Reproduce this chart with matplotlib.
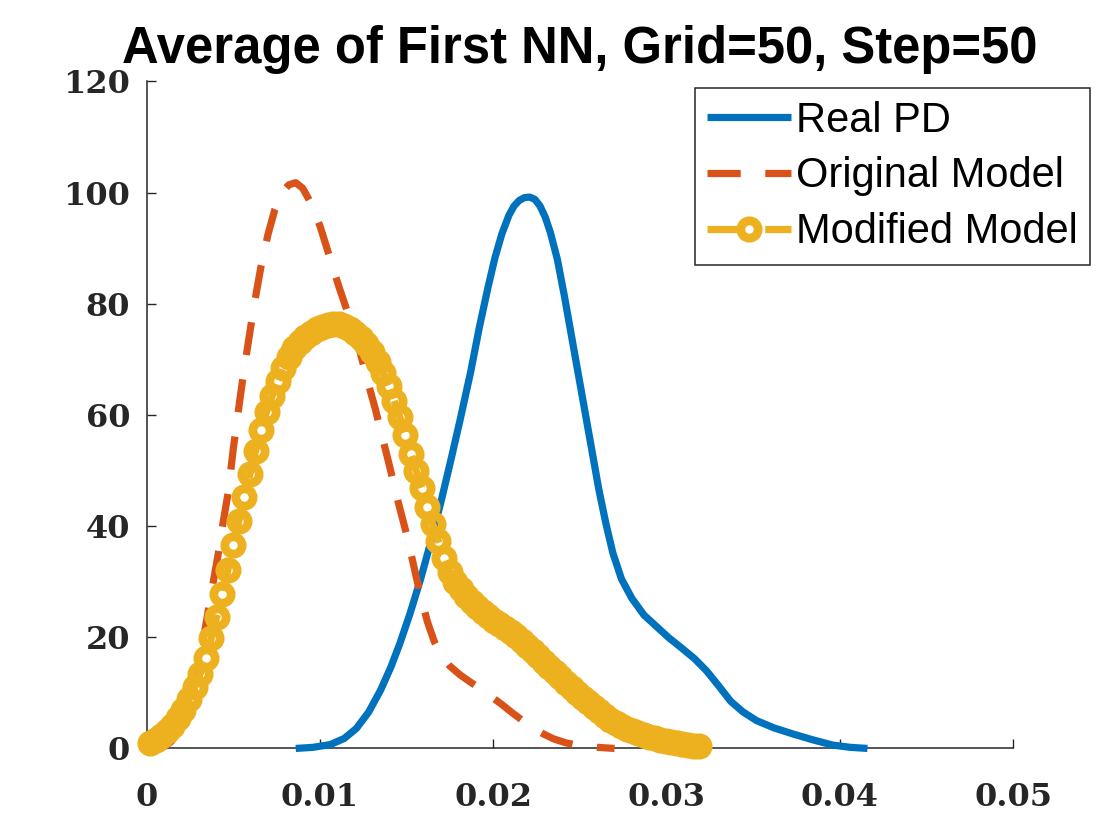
import matplotlib
matplotlib.use("Agg")
import matplotlib.pyplot as plt

# ---------- data ----------
real_x = [0.0086, 0.0096, 0.0106, 0.0114, 0.0121, 0.0128, 0.0135, 0.0141, 0.0146, 0.0152,
          0.0158, 0.0164, 0.0170, 0.0176, 0.0181, 0.0187, 0.0192, 0.0197, 0.0201, 0.0205,
          0.0209, 0.0212, 0.0215, 0.0218, 0.0221, 0.0224, 0.0227, 0.0230, 0.0233, 0.0237,
          0.0241, 0.0245, 0.0249, 0.0253, 0.0257, 0.0261, 0.0265, 0.0269, 0.0274, 0.0280,
          0.0287, 0.0294, 0.0301, 0.0309, 0.0316, 0.0323, 0.0330, 0.0337, 0.0344, 0.0352,
          0.0362, 0.0373, 0.0385, 0.0396, 0.0406, 0.0416]
real_y = [0.0, 0.2, 0.7, 1.8, 3.6, 6.5, 10.5, 14.7, 18.8, 24.3,
          30.4, 37.2, 44.6, 52.5, 59.3, 67.8, 75.8, 83.0, 88.3, 92.6,
          95.9, 97.6, 98.6, 99.1, 99.2, 98.8, 97.6, 95.6, 92.8, 88.0,
          81.5, 74.5, 67.5, 60.5, 53.5, 46.5, 40.5, 35.2, 30.5, 27.0,
          24.0, 22.0, 20.0, 18.0, 16.2, 14.0, 11.3, 8.5, 6.6, 5.0,
          3.7, 2.6, 1.5, 0.6, 0.2, 0.0]

orig_x = [0.0010, 0.0014, 0.0018, 0.0022, 0.0025, 0.0028, 0.0031, 0.0034, 0.0037, 0.0041,
          0.0044, 0.0047, 0.0050, 0.0053, 0.0056, 0.0059, 0.0062, 0.0066, 0.0070, 0.0074,
          0.0078, 0.0082, 0.0086, 0.0090, 0.0095, 0.0100, 0.0105, 0.0111, 0.0117, 0.0123,
          0.0128, 0.0132, 0.0136, 0.0140, 0.0145, 0.0150, 0.0154, 0.0158, 0.0162, 0.0166,
          0.0170, 0.0175, 0.0181, 0.0187, 0.0193, 0.0199, 0.0205, 0.0211, 0.0217, 0.0223,
          0.0229, 0.0235, 0.0242, 0.0250, 0.0260, 0.0270]
orig_y = [0.3, 1.2, 3.0, 5.8, 9.0, 12.8, 17.2, 22.0, 27.5, 34.5,
          40.5, 46.0, 54.0, 61.0, 67.8, 73.8, 79.8, 86.8, 92.5, 97.0,
          100.0, 101.4, 101.8, 100.8, 98.0, 94.0, 89.0, 83.0, 77.5, 71.5,
          65.5, 61.0, 56.0, 51.0, 44.5, 38.5, 33.0, 27.5, 22.8, 19.2,
          16.8, 14.8, 13.2, 11.9, 10.6, 9.3, 7.9, 6.4, 5.0, 3.7,
          2.6, 1.7, 1.0, 0.5, 0.2, 0.0]

mod_x = [0.00020, 0.00052, 0.00084, 0.00116, 0.00148, 0.00180, 0.00212, 0.00244, 0.00276, 0.00308,
         0.00340, 0.00372, 0.00404, 0.00436, 0.00468, 0.00500, 0.00532, 0.00564, 0.00596, 0.00628,
         0.00660, 0.00692, 0.00724, 0.00756, 0.00788, 0.00820, 0.00852, 0.00884, 0.00916, 0.00948,
         0.00980, 0.01012, 0.01044, 0.01076, 0.01108, 0.01140, 0.01172, 0.01204, 0.01236, 0.01268,
         0.01300, 0.01332, 0.01364, 0.01396, 0.01428, 0.01460, 0.01492, 0.01524, 0.01556, 0.01588,
         0.01620, 0.01652, 0.01684, 0.01716, 0.01748, 0.01780, 0.01812, 0.01844, 0.01876, 0.01908,
         0.01940, 0.01972, 0.02004, 0.02036, 0.02068, 0.02100, 0.02132, 0.02164, 0.02196, 0.02228,
         0.02260, 0.02292, 0.02324, 0.02356, 0.02388, 0.02420, 0.02452, 0.02484, 0.02516, 0.02548,
         0.02580, 0.02612, 0.02644, 0.02676, 0.02708, 0.02740, 0.02772, 0.02804, 0.02836, 0.02868,
         0.02900, 0.02932, 0.02964, 0.02996, 0.03028, 0.03060, 0.03092, 0.03124, 0.03156, 0.03188]
mod_y = [1.0, 1.6, 2.3, 3.1, 4.1, 5.4, 7.0, 8.9, 11.0, 13.4,
         16.3, 19.8, 23.7, 27.8, 32.1, 36.6, 41.0, 45.3, 49.4, 53.5,
         57.3, 60.6, 63.4, 66.1, 68.5, 70.5, 72.0, 73.2, 74.1, 74.8,
         75.4, 75.8, 76.1, 76.3, 76.3, 76.0, 75.5, 74.8, 73.9, 72.8,
         71.3, 69.6, 67.6, 65.3, 62.6, 59.7, 56.4, 53.0, 49.9, 46.8,
         43.4, 40.3, 37.3, 34.3, 31.8, 29.9, 28.6, 27.5, 26.4, 25.4,
         24.6, 23.8, 23.0, 22.3, 21.6, 21.0, 20.2, 19.3, 18.4, 17.5,
         16.6, 15.6, 14.6, 13.7, 12.8, 11.8, 10.9, 10.0, 9.1, 8.3,
         7.4, 6.7, 5.9, 5.2, 4.6, 4.0, 3.5, 3.1, 2.7, 2.4,
         2.1, 1.8, 1.6, 1.4, 1.2, 1.0, 0.8, 0.6, 0.5, 0.4]

x_ticks = [0, 0.01, 0.02, 0.03, 0.04, 0.05]
x_labels = ["0", "0.01", "0.02", "0.03", "0.04", "0.05"]
y_ticks = [0, 20, 40, 60, 80, 100, 120]

labels = ["Real PD", "Original Model", "Modified Model"]
title = "Average of First NN, Grid=50, Step=50"

# ---------- figure ----------
fig = plt.figure(figsize=(11.2, 8.4), dpi=100)
ax = fig.add_axes([0.131, 0.109, 0.7735, 0.794])

lw = 5.2
dash = (0, (4.6, 3.4))
ax.plot(real_x, real_y, color="#0072BD", lw=lw, label=labels[0],
        zorder=3, clip_on=False, solid_capstyle="butt", solid_joinstyle="round")
ax.plot(orig_x, orig_y, color="#D95319", lw=lw, ls=dash,
        label=labels[1], zorder=3, clip_on=False)
ax.plot(mod_x, mod_y, color="#EDB120", lw=lw, ls=dash,
        marker="o", ms=12.5, mew=6.3, mfc="none", mec="#EDB120",
        label=labels[2], zorder=4, clip_on=False)

ax.set_xlim(0, 0.05)
ax.set_ylim(0, 120)
ax.set_xticks(x_ticks)
ax.set_xticklabels(x_labels)
ax.set_yticks(y_ticks)

for side in ["top", "right"]:
    ax.spines[side].set_visible(False)
for side in ["left", "bottom"]:
    ax.spines[side].set_color("#262626")
    ax.spines[side].set_linewidth(1.1)

ax.tick_params(direction="in", length=6.5, width=1, color="#262626",
               labelcolor="#262626", top=False, right=False)
ax.tick_params(axis="x", pad=24)
ax.tick_params(axis="y", pad=12)
for lab in ax.get_xticklabels() + ax.get_yticklabels():
    lab.set_family("DejaVu Serif")
    lab.set_fontweight("bold")
    lab.set_fontsize(23)

ax.set_title(title, fontsize=36.5, fontweight="bold", family="Liberation Sans", pad=13)

leg = ax.legend(loc="upper right", bbox_to_anchor=(1090 / 1120, 1 - 88 / 840),
                bbox_transform=fig.transFigure, prop={"family": "Liberation Sans", "size": 30},
                fancybox=False, framealpha=1, edgecolor="#262626", borderpad=0.3,
                handlelength=2.0, handletextpad=0.12, labelspacing=0.38,
                borderaxespad=0, numpoints=1)
leg.get_frame().set_linewidth(1.1)

fig.savefig("out.png", dpi=100, facecolor="white")
